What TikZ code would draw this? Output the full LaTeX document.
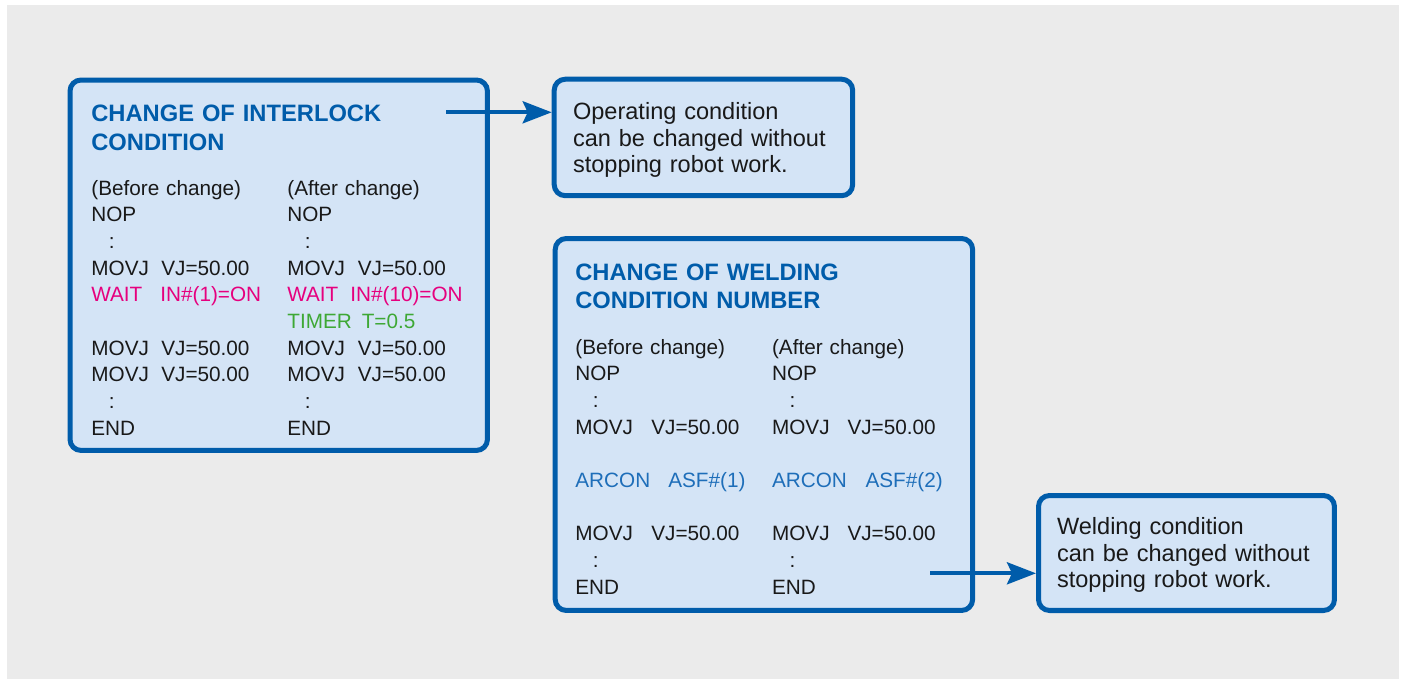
\documentclass[tikz,border=0pt]{standalone}
\usepackage{fontspec}
\setmainfont{Liberation Sans}
\usetikzlibrary{arrows.meta}

\definecolor{bggray}{RGB}{235,235,235}
\definecolor{panelfill}{RGB}{212,228,246}
\definecolor{panelblue}{RGB}{0,92,170}
\definecolor{waitpink}{RGB}{230,0,126}
\definecolor{timergreen}{RGB}{62,168,53}
\definecolor{arcblue}{RGB}{30,110,185}
\definecolor{codeblack}{RGB}{25,25,25}

\newcommand{\opcode}[2]{\makebox[#1][l]{#2}}
\newcommand{\dotrow}{\hspace*{0.35cm}:}

\tikzset{
  panel/.style={draw=panelblue, line width=2.85pt, fill=panelfill,
    rounded corners=0.22cm, inner sep=0pt, anchor=north west},
  heading/.style={anchor=base west, inner sep=0pt, text width=7.5cm, align=left,
    text=panelblue, font=\fontsize{13.5}{16.2}\selectfont\bfseries},
  listing/.style={anchor=base west, inner sep=0pt, text width=3.8cm, align=left,
    text=codeblack, font=\fontsize{11.8}{15.19}\selectfont},
  note/.style={anchor=base west, inner sep=0pt, text width=5.5cm, align=left,
    text=codeblack, font=\fontsize{13.4}{15.25}\selectfont},
  link/.style={draw=panelblue, line width=2.3pt,
    -{Stealth[length=0.58cm,width=0.44cm,inset=0.1cm]}}
}

\begin{document}
\begin{tikzpicture}[x=0.02cm,y=-0.02cm]
			\useasboundingbox (0,0) rectangle (1403,681);
			\fill[bggray] (7,5) rectangle (1399,679);

			% panels
			\node[panel, minimum width=8.35cm, minimum height=7.41cm] (interlock) at (67.5,77.5) {};
			\node[panel, minimum width=8.35cm, minimum height=7.44cm] (welding) at (552.7,236) {};
			\node[panel, minimum width=5.97cm, minimum height=2.33cm] (op) at (551.7,76.7) {};
			\node[panel, minimum width=5.92cm, minimum height=2.30cm] (weld) at (1036,493) {};

			% interlock condition
			\node[heading] (t1) at (91,121.7) {CHANGE OF INTERLOCK\\CONDITION};
			\node[listing] (before1) at (91,195) {(Before change)\\NOP\\\dotrow\\
				\opcode{1.4cm}{MOVJ}VJ=50.00\\
				{\color{waitpink}\opcode{1.38cm}{WAIT}IN\#(1)=ON}\\\mbox{}\\
				\opcode{1.4cm}{MOVJ}VJ=50.00\\\opcode{1.4cm}{MOVJ}VJ=50.00\\\dotrow\\END};
			\node[listing] (after1) at (287,195) {(After change)\\NOP\\\dotrow\\
				\opcode{1.41cm}{MOVJ}VJ=50.00\\
				{\color{waitpink}\opcode{1.26cm}{WAIT}IN\#(10)=ON}\\
				{\color{timergreen}\opcode{1.49cm}{TIMER}T=0.5}\\
				\opcode{1.41cm}{MOVJ}VJ=50.00\\\opcode{1.41cm}{MOVJ}VJ=50.00\\\dotrow\\END};

			% welding condition number
			\node[heading] (t2) at (575,280) {CHANGE OF WELDING\\CONDITION NUMBER};
			\node[listing] (before2) at (575,354) {(Before change)\\NOP\\\dotrow\\
				\opcode{1.52cm}{MOVJ}VJ=50.00\\\mbox{}\\
				{\color{arcblue}\opcode{1.86cm}{ARCON}ASF\#(1)}\\\mbox{}\\
				\opcode{1.52cm}{MOVJ}VJ=50.00\\\dotrow\\END};
			\node[listing] (after2) at (771.7,354) {(After change)\\NOP\\\dotrow\\
				\opcode{1.51cm}{MOVJ}VJ=50.00\\\mbox{}\\
				{\color{arcblue}\opcode{1.87cm}{ARCON}ASF\#(2)}\\\mbox{}\\
				\opcode{1.51cm}{MOVJ}VJ=50.00\\\dotrow\\END};

			% notes
			\node[note] (n1) at (572.7,119.3) {Operating condition\\can be changed without\\stopping robot work.};
			\node[note] (n2) at (1056.7,534.3) {Welding condition\\can be changed without\\stopping robot work.};

			% arrows
			\coordinate (a1) at (446,112.3);
			\draw[link] (a1) -- (a1 -| op.west);
			\coordinate (a2) at (930,573.3);
			\draw[link] (a2) -- (a2 -| weld.west);
		\end{tikzpicture}
\end{document}
